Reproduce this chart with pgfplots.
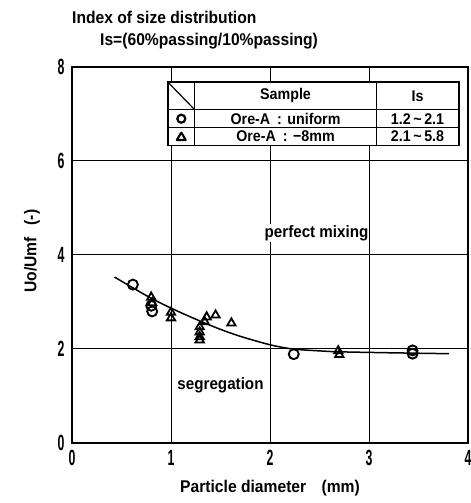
\documentclass[border=0pt]{standalone}
\usepackage{fontspec}
\setmainfont{Liberation Sans}[FakeStretch=0.92]
\newfontfamily\tickfont{Liberation Sans}[FakeStretch=0.56]
\usepackage{pgfplots}
\pgfplotsset{compat=1.18}

\pgfplotstableread{
x y
0.615 3.37
0.80 2.92
0.81 2.80
2.24 1.89
3.44 1.97
3.44 1.90
}\circdata

\pgfplotstableread{
x y
0.80 3.10
0.81 2.98
1.00 2.78
1.00 2.66
1.29 2.47
1.29 2.36
1.29 2.26
1.29 2.19
1.36 2.68
1.34 2.58
1.45 2.72
1.61 2.55
2.69 1.96
2.70 1.88
}\tridata

\pgfplotstableread{
x y
0.43 3.53
0.60 3.32
0.80 3.08
1.00 2.87
1.20 2.68
1.46 2.45
1.70 2.27
2.00 2.09
2.23 2.00
2.50 1.96
2.70 1.94
3.20 1.92
3.81 1.90
}\curvedata

\begin{document}
\begin{tikzpicture}
\begin{axis}[
  scale only axis, width=396pt, height=376pt,
  xmin=0, xmax=4, ymin=0, ymax=8,
  xtick={0,1,2,3,4}, ytick={0,2,4,6,8},
  grid=major, grid style={black, line width=1pt},
  axis line style={line width=1.8pt},
  major tick length=0pt,
  /pgf/number format/assume math mode=true,
  tick label style={font=\tickfont\bfseries\fontsize{22}{22}\selectfont},
  xticklabel style={yshift=-4pt},
  yticklabel style={xshift=-4pt},
  xlabel={Particle diameter\hspace{0.9em}(mm)},
  ylabel={Uo/Umf\hspace{0.7em}(-)},
  label style={font=\bfseries\fontsize{17}{17}\selectfont},
  xlabel style={at={(rel axis cs:0.5,0)}, anchor=center, yshift=-45pt},
  ylabel style={at={(rel axis cs:-0.101,0.51)}, anchor=center},
  clip=false,
]
\addplot[black, line width=1.5pt, smooth] table[x=x,y=y] {\curvedata};
\addplot[only marks, mark=o, mark size=5pt, mark options={line width=1.9pt, fill=white}] table[x=x,y=y] {\circdata};
\addplot[only marks, mark=triangle, mark size=4.8pt, mark options={line width=1.8pt}] table[x=x,y=y] {\tridata};

% region labels
\node[fill=white, inner sep=1pt, font=\bfseries\fontsize{16.5}{16.5}\selectfont] at (axis cs:2.47,4.47) {perfect mixing};
\node[fill=white, inner sep=1pt, font=\bfseries\fontsize{16.5}{16.5}\selectfont] at (axis cs:1.50,1.23) {segregation};

% legend table
\fill[white] (axis cs:0.968,6.33) rectangle (axis cs:3.91,7.68);
\draw[line width=1.2pt] (axis cs:1.24,6.33) -- (axis cs:1.24,7.68);
\draw[line width=1.2pt] (axis cs:3.075,6.33) -- (axis cs:3.075,7.68);
\draw[line width=1.2pt] (axis cs:0.968,7.09) -- (axis cs:3.91,7.09);
\draw[line width=1.2pt] (axis cs:0.968,6.71) -- (axis cs:3.91,6.71);
\draw[line width=1.2pt] (axis cs:0.968,7.68) -- (axis cs:1.24,7.09);
\draw[line width=1.8pt] (axis cs:0.968,6.33) rectangle (axis cs:3.91,7.68);
\draw[line width=2.2pt] (axis cs:1.104,6.9) circle[radius=4pt];
\draw[line width=2.1pt, line join=round] ([shift={(0,4pt)}]axis cs:1.104,6.52) -- ++(-4.5pt,-7.4pt) -- ++(9pt,0) -- cycle;
\begin{scope}[every node/.style={font=\bfseries\fontsize{15.5}{15.5}\selectfont}]
\node at (axis cs:2.157,7.385) {Sample};
\node at (axis cs:3.49,7.385) {Is};
\node at (axis cs:2.157,6.9) {Ore-A\hspace{0.45em}:\hspace{0.35em}uniform};
\node at (axis cs:2.157,6.52) {Ore-A\hspace{0.45em}:\hspace{0.35em}−8mm};
\node at (axis cs:3.49,6.9) {1.2\,\textasciitilde\,2.1};
\node at (axis cs:3.49,6.52) {2.1\,\textasciitilde\,5.8};
\end{scope}

% title
\node[anchor=west, inner sep=0pt, font=\bfseries\fontsize{17}{17}\selectfont] at ([yshift=50pt]rel axis cs:0,1) {Index of size distribution};
\node[anchor=west, inner sep=0pt, font=\bfseries\fontsize{17}{17}\selectfont] at ([shift={(28pt,26pt)}]rel axis cs:0,1) {Is=(60\%passing/10\%passing)};
\end{axis}
\pgfresetboundingbox
\path ([shift={(-72pt,-60pt)}]current axis.south west) rectangle ([shift={(2pt,67pt)}]current axis.north east);
\end{tikzpicture}
\end{document}
